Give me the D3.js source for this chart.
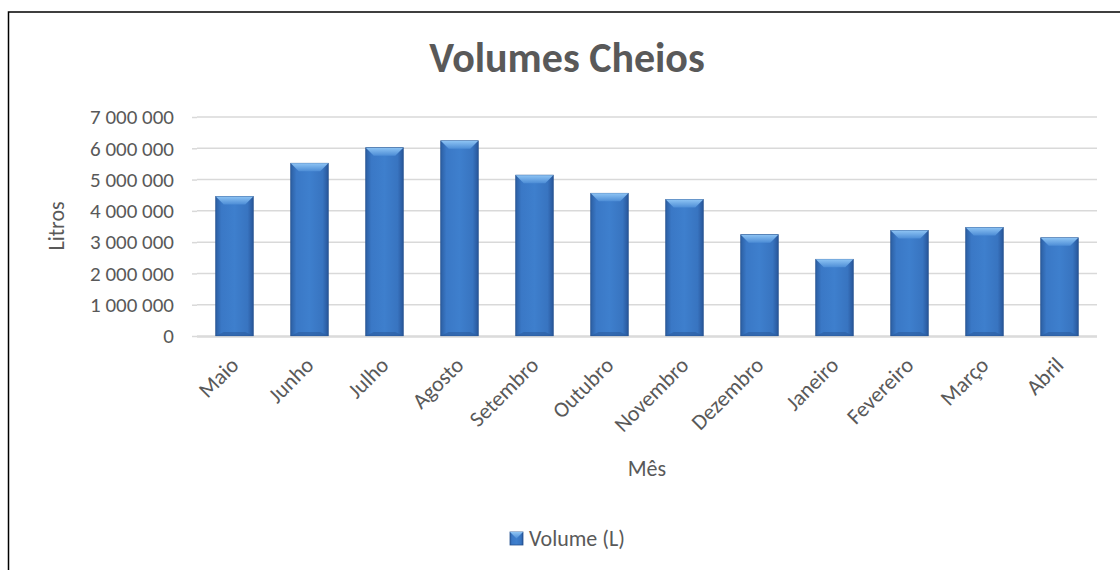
<!DOCTYPE html>
<html lang="pt">
<head>
<meta charset="UTF-8">
<title>Volumes Cheios</title>
<script src="https://cdn.jsdelivr.net/npm/d3@7"></script>
<style>
    body { margin: 0; background: #fff; }
    text { font-family: Carlito, Lato, "Open Sans", sans-serif; fill: #595959; }
    .axis text { font-size: 22px; }
    .yaxis text { font-size: 21px; }
</style>
</head>
<body>
<script>
    // dados
    const meses = ['Maio', 'Junho', 'Julho', 'Agosto', 'Setembro', 'Outubro', 'Novembro',
        'Dezembro', 'Janeiro', 'Fevereiro', 'Março', 'Abril']
    const volumes = [4460000, 5520000, 6020000, 6240000, 5140000, 4560000, 4360000,
        3240000, 2450000, 3370000, 3470000, 3140000]
    const yTicks = [0, 1000000, 2000000, 3000000, 4000000, 5000000, 6000000, 7000000]

    const width = 1120
    const height = 570
    const plot = { left: 197, right: 1097, top: 117, bottom: 336 }

    const svg = d3.select('body').append('svg').attr('width', width).attr('height', height)

    // moldura
    svg.append('rect')
        .attr('x', 8.5).attr('y', 12)
        .attr('width', 1130).attr('height', 600)
        .attr('fill', '#fff').attr('stroke', '#000').attr('stroke-width', 1.5)

    const x = d3.scaleBand()
        .domain(meses)
        .range([plot.left, plot.right])
        .paddingInner(0.5)
        .paddingOuter(0.25)

    const y = d3.scaleLinear()
        .domain([0, 7000000])
        .range([plot.bottom, plot.top])

    const fmt = d => d3.format(',')(d).replace(/,/g, ' ')

    // gradientes
    const defs = svg.append('defs')
    const bodyGrad = defs.append('linearGradient').attr('id', 'bodyGrad').attr('x1', 0).attr('x2', 1).attr('y1', 0).attr('y2', 0)
    bodyGrad.append('stop').attr('offset', '0%').attr('stop-color', '#2c5fa3')
    bodyGrad.append('stop').attr('offset', '15%').attr('stop-color', '#3a78c6')
    bodyGrad.append('stop').attr('offset', '50%').attr('stop-color', '#3e7fcd')
    bodyGrad.append('stop').attr('offset', '85%').attr('stop-color', '#3874c0')
    bodyGrad.append('stop').attr('offset', '100%').attr('stop-color', '#28569a')
    const topGrad = defs.append('linearGradient').attr('id', 'topGrad').attr('x1', 0).attr('x2', 0).attr('y1', 0).attr('y2', 1)
    topGrad.append('stop').attr('offset', '0%').attr('stop-color', '#8ec4f4')
    topGrad.append('stop').attr('offset', '100%').attr('stop-color', '#4d8dd6')

    // grelha
    const yAxis = d3.axisLeft(y).tickValues(yTicks).tickFormat(fmt).tickSize(5).tickPadding(18)
    const gy = svg.append('g')
        .attr('class', 'yaxis')
        .attr('transform', 'translate(' + plot.left + ',0)')
        .call(yAxis)
    gy.select('.domain').remove()
    gy.selectAll('line').attr('stroke', '#d9d9d9').attr('stroke-width', 1.5)
    gy.selectAll('text').attr('fill', '#595959')

    svg.append('g')
        .selectAll('line')
        .data(yTicks)
        .enter()
        .append('line')
        .attr('x1', plot.left).attr('x2', plot.right)
        .attr('y1', d => y(d)).attr('y2', d => y(d))
        .attr('stroke', '#d9d9d9').attr('stroke-width', 1.5)

    // barras
    const b = 8
    const bars = svg.append('g')
        .selectAll('g')
        .data(meses)
        .enter()
        .append('g')

    bars.append('rect')
        .attr('x', d => x(d))
        .attr('y', (d, i) => y(volumes[i]))
        .attr('width', x.bandwidth())
        .attr('height', (d, i) => y(0) - y(volumes[i]))
        .attr('fill', 'url(#bodyGrad)')
        .attr('stroke', '#25528f')
        .attr('stroke-width', 0.8)

    bars.append('polygon')
        .attr('points', (d, i) => {
            const x0 = x(d), x1 = x(d) + x.bandwidth(), t = y(volumes[i])
            return [[x0, t], [x1, t], [x1 - b, t + b], [x0 + b, t + b]].join(' ')
        })
        .attr('fill', 'url(#topGrad)')

    bars.append('polygon')
        .attr('points', (d, i) => {
            const x0 = x(d), x1 = x(d) + x.bandwidth(), bt = y(0)
            return [[x0, bt], [x1, bt], [x1 - b, bt - 4], [x0 + b, bt - 4]].join(' ')
        })
        .attr('fill', '#2b5c9f')
        .attr('opacity', 0.6)

    // eixo x
    svg.append('line')
        .attr('x1', plot.left).attr('x2', plot.right)
        .attr('y1', y(0) + 1).attr('y2', y(0) + 1)
        .attr('stroke', '#d9d9d9').attr('stroke-width', 1.5)

    svg.append('g')
        .attr('class', 'axis')
        .selectAll('text')
        .data(meses)
        .enter()
        .append('text')
        .attr('text-anchor', 'end')
        .attr('dy', '0.35em')
        .attr('transform', d => 'translate(' + (x(d) + x.bandwidth() / 2) + ',' + (y(0) + 25) + ') rotate(-45)')
        .text(d => d)

    // títulos
    svg.append('text')
        .attr('x', 567).attr('y', 72)
        .attr('text-anchor', 'middle')
        .style('font-size', '42px').style('font-weight', 'bold')
        .text('Volumes Cheios')

    svg.append('text')
        .attr('transform', 'translate(64,' + 226 + ') rotate(-90)')
        .attr('text-anchor', 'middle')
        .style('font-size', '22px')
        .text('Litros')

    svg.append('text')
        .attr('x', (plot.left + plot.right) / 2).attr('y', 476)
        .attr('text-anchor', 'middle')
        .style('font-size', '22px')
        .text('Mês')

    // legenda
    svg.append('rect')
        .attr('x', 510).attr('y', 532).attr('width', 13).attr('height', 13)
        .attr('fill', 'url(#bodyGrad)').attr('stroke', '#25528f').attr('stroke-width', 0.8)
    svg.append('polygon')
        .attr('points', '510,532 523,532 516.5,538.5')
        .attr('fill', 'url(#topGrad)')
    svg.append('text')
        .attr('x', 529).attr('y', 546)
        .style('font-size', '22px')
        .text('Volume (L)')
</script>
</body>
</html>
